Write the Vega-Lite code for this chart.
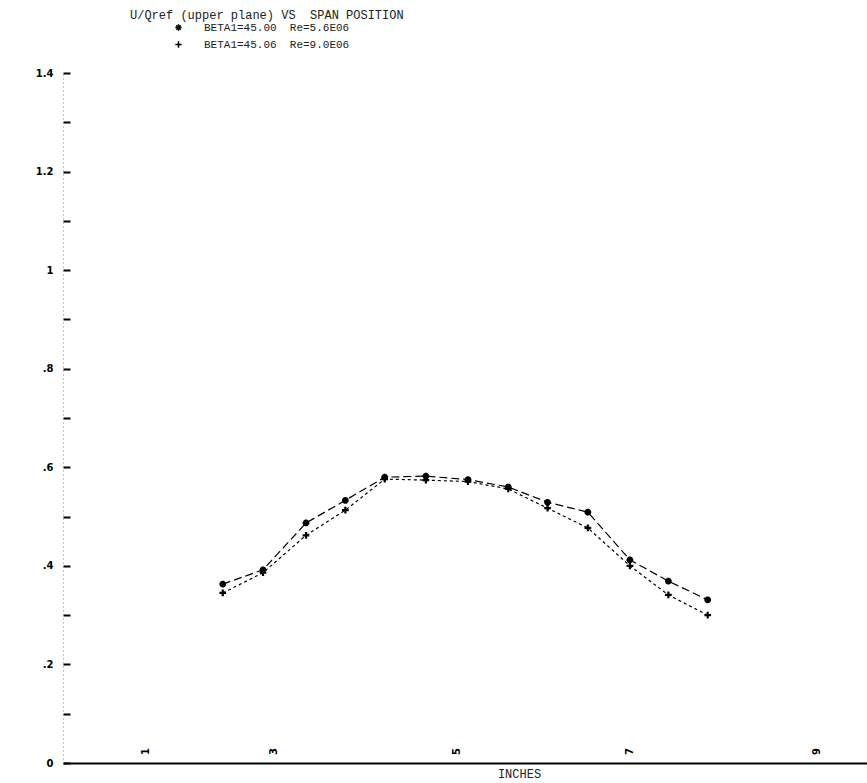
{
  "$schema": "https://vega.github.io/schema/vega-lite/v6.json",
  "width": 804,
  "height": 690,
  "autosize": {"type": "none"},
  "padding": {"left": 63, "top": 73, "right": 0, "bottom": 20},
  "background": "white",
  "title": {
    "text": "U/Qref (upper plane)\u00a0VS\u00a0\u00a0SPAN POSITION",
    "anchor": "start",
    "frame": "group",
    "dx": 67,
    "offset": 0,
    "font": "Liberation Mono",
    "fontSize": 12,
    "fontWeight": "normal",
    "color": "#222222"
  },
  "config": {"view": {"stroke": null}},
  "data": {
    "values": [
      {"series": "BETA1=45.00\u00a0\u00a0Re=5.6E06", "inches": 2.44, "uqref": 0.363},
      {"series": "BETA1=45.00\u00a0\u00a0Re=5.6E06", "inches": 2.88, "uqref": 0.392},
      {"series": "BETA1=45.00\u00a0\u00a0Re=5.6E06", "inches": 3.35, "uqref": 0.487},
      {"series": "BETA1=45.00\u00a0\u00a0Re=5.6E06", "inches": 3.78, "uqref": 0.533},
      {"series": "BETA1=45.00\u00a0\u00a0Re=5.6E06", "inches": 4.21, "uqref": 0.580},
      {"series": "BETA1=45.00\u00a0\u00a0Re=5.6E06", "inches": 4.66, "uqref": 0.582},
      {"series": "BETA1=45.00\u00a0\u00a0Re=5.6E06", "inches": 5.12, "uqref": 0.575},
      {"series": "BETA1=45.00\u00a0\u00a0Re=5.6E06", "inches": 5.56, "uqref": 0.560},
      {"series": "BETA1=45.00\u00a0\u00a0Re=5.6E06", "inches": 5.99, "uqref": 0.529},
      {"series": "BETA1=45.00\u00a0\u00a0Re=5.6E06", "inches": 6.43, "uqref": 0.509},
      {"series": "BETA1=45.00\u00a0\u00a0Re=5.6E06", "inches": 6.89, "uqref": 0.412},
      {"series": "BETA1=45.00\u00a0\u00a0Re=5.6E06", "inches": 7.31, "uqref": 0.369},
      {"series": "BETA1=45.00\u00a0\u00a0Re=5.6E06", "inches": 7.74, "uqref": 0.331},
      {"series": "BETA1=45.06\u00a0\u00a0Re=9.0E06", "inches": 2.44, "uqref": 0.345},
      {"series": "BETA1=45.06\u00a0\u00a0Re=9.0E06", "inches": 2.88, "uqref": 0.386},
      {"series": "BETA1=45.06\u00a0\u00a0Re=9.0E06", "inches": 3.35, "uqref": 0.462},
      {"series": "BETA1=45.06\u00a0\u00a0Re=9.0E06", "inches": 3.78, "uqref": 0.513},
      {"series": "BETA1=45.06\u00a0\u00a0Re=9.0E06", "inches": 4.21, "uqref": 0.576},
      {"series": "BETA1=45.06\u00a0\u00a0Re=9.0E06", "inches": 4.66, "uqref": 0.574},
      {"series": "BETA1=45.06\u00a0\u00a0Re=9.0E06", "inches": 5.12, "uqref": 0.571},
      {"series": "BETA1=45.06\u00a0\u00a0Re=9.0E06", "inches": 5.56, "uqref": 0.556},
      {"series": "BETA1=45.06\u00a0\u00a0Re=9.0E06", "inches": 5.99, "uqref": 0.517},
      {"series": "BETA1=45.06\u00a0\u00a0Re=9.0E06", "inches": 6.43, "uqref": 0.477},
      {"series": "BETA1=45.06\u00a0\u00a0Re=9.0E06", "inches": 6.89, "uqref": 0.400},
      {"series": "BETA1=45.06\u00a0\u00a0Re=9.0E06", "inches": 7.31, "uqref": 0.341},
      {"series": "BETA1=45.06\u00a0\u00a0Re=9.0E06", "inches": 7.74, "uqref": 0.300}
    ]
  },
  "encoding": {
    "x": {
      "field": "inches",
      "type": "quantitative",
      "scale": {"domain": [0.694, 9.481], "nice": false, "zero": false},
      "axis": {
        "values": [1.6, 3, 5, 6.89, 8.93],
        "labelExpr": "datum.value < 2 ? '1' : datum.value < 4 ? '3' : datum.value < 6 ? '5' : datum.value < 8 ? '7' : '9'",
        "labelAngle": -90,
        "labelAlign": "center",
        "labelBaseline": "middle",
        "labelPadding": -12,
        "labelFont": "DejaVu Sans",
        "labelFontWeight": "bold",
        "labelFontSize": 10,
        "labelColor": "black",
        "ticks": false,
        "grid": false,
        "domainColor": "black",
        "domainWidth": 2,
        "title": "INCHES",
        "titleFont": "Liberation Mono",
        "titleFontSize": 12,
        "titleFontWeight": "normal",
        "titleColor": "#222222",
        "titleX": 456,
        "titleY": 10,
        "titleAlign": "center",
        "titleBaseline": "middle"
      }
    },
    "y": {
      "field": "uqref",
      "type": "quantitative",
      "scale": {"domain": [0, 1.4], "nice": false},
      "axis": {
        "values": [0, 0.1, 0.2, 0.3, 0.4, 0.5, 0.6, 0.7, 0.8, 0.9, 1, 1.1, 1.2, 1.3, 1.4],
        "labelExpr": "round(datum.value*10) % 2 == 1 ? '' : (datum.value > 0 && datum.value < 1 ? substring(format(datum.value, '.1f'), 1) : format(datum.value, '.1~f'))",
        "labelFont": "DejaVu Sans",
        "labelFontWeight": "bold",
        "labelFontSize": 10,
        "labelColor": "black",
        "labelPadding": 17,
        "tickSize": -7,
        "tickWidth": 2,
        "tickColor": "black",
        "domainColor": "#888888",
        "domainDash": [1, 3],
        "domainWidth": 1,
        "grid": false,
        "title": null
      }
    }
  },
  "layer": [
    {
      "mark": {"type": "line", "strokeWidth": 1.2, "color": "black"},
      "encoding": {
        "strokeDash": {
          "field": "series",
          "type": "nominal",
          "scale": {"range": [[8, 4], [3, 3]]},
          "legend": null
        }
      }
    },
    {
      "mark": {"type": "point", "filled": false, "strokeWidth": 2.2, "size": 45, "color": "black", "opacity": 1},
      "encoding": {
        "shape": {
          "field": "series",
          "type": "nominal",
          "scale": {"range": ["M-1,0L1,0M0,-1L0,1M-0.7,-0.7L0.7,0.7M-0.7,0.7L0.7,-0.7", "M-1,0L1,0M0,-1L0,1"]},
          "legend": {
            "orient": "none",
            "legendX": 110,
            "legendY": -51,
            "title": null,
            "labelFont": "Liberation Mono",
            "labelFontSize": 11,
            "labelColor": "#222222",
            "labelOffset": 20,
            "symbolSize": 40,
            "symbolStrokeWidth": 1.5,
            "symbolStrokeColor": "black",
            "symbolFillColor": "transparent",
            "rowPadding": 4
          }
        }
      }
    }
  ]
}
